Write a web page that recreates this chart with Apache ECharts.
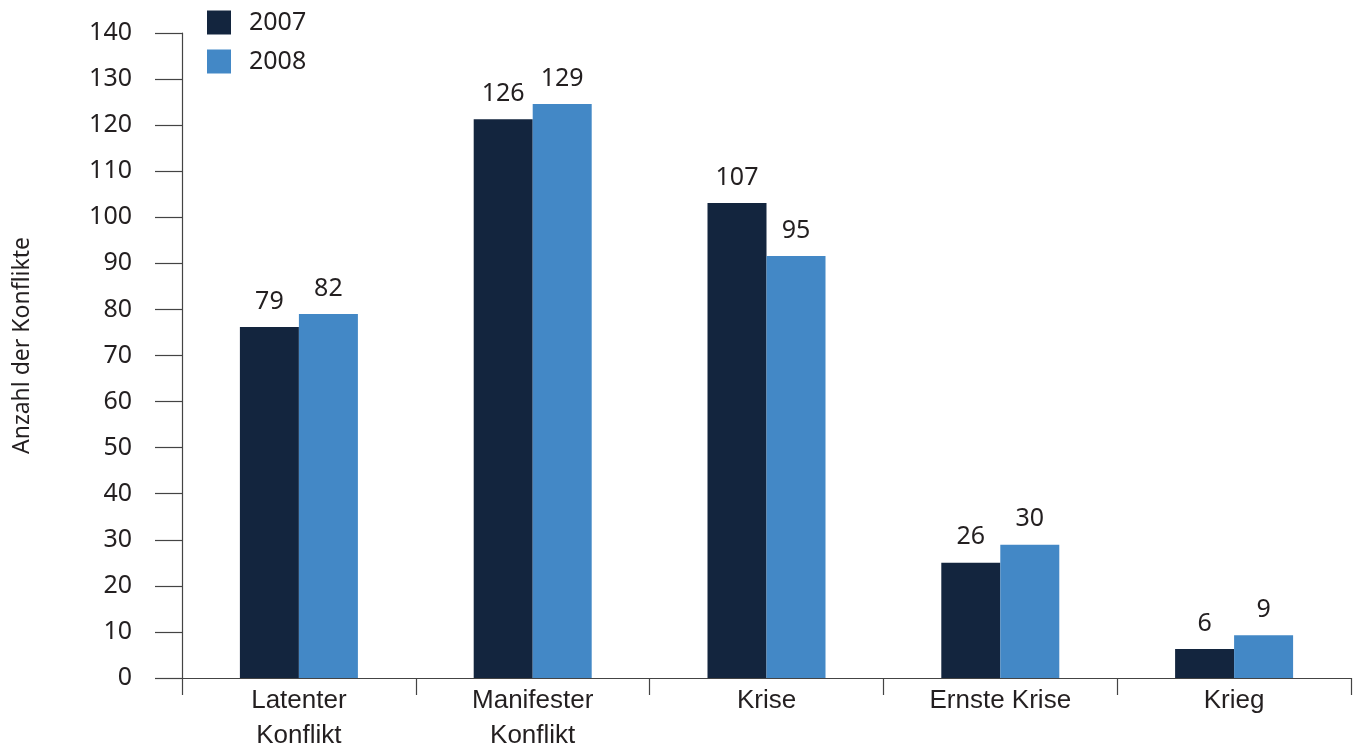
<!DOCTYPE html>
<html><head><meta charset="utf-8">
<script src="https://cdn.jsdelivr.net/npm/echarts@6/dist/echarts.min.js"></script>
<style>html,body{margin:0;padding:0;background:#fff}#c{width:1363px;height:749px}</style>
</head><body><div id="c"></div>
<script>
const categories = ['Latenter\nKonflikt', 'Manifester\nKonflikt', 'Krise', 'Ernste Krise', 'Krieg'];
const seriesNames = ['2007', '2008'];
// printed value labels
const labels2007 = [79, 126, 107, 26, 6];
const labels2008 = [82, 129, 95, 30, 9];
// bar heights as drawn against the axis
const bars2007 = [76.2, 121.3, 103.1, 25.0, 6.3];
const bars2008 = [79.0, 124.6, 91.6, 28.9, 9.3];
const yTicks = [0, 10, 20, 30, 40, 50, 60, 70, 80, 90, 100, 110, 120, 130, 140];

const textColor = '#231f20';
const font = 'Noto Sans';
function mk(name, bars, labs, color) {
  return {
    name: name, type: 'bar', barWidth: 59, barGap: '0%',
    data: bars,
    itemStyle: { color: color },
    label: { show: true, position: 'top', distance: 13, color: textColor, fontSize: 25, fontFamily: font,
      formatter: p => String(labs[p.dataIndex]) }
  };
}
const chart = echarts.init(document.getElementById('c'));
chart.setOption({
  animation: false,
  grid: { left: 182, right: 12, top: 33, bottom: 71, containLabel: false, outerBoundsMode: 'none' },
  legend: {
    orient: 'vertical', left: 207, top: 10, padding: 0, itemWidth: 24, itemHeight: 24, itemGap: 14,
    icon: 'rect', textStyle: { fontSize: 25, color: textColor, fontFamily: font, padding: [0, 0, 0, 13] },
    data: seriesNames
  },
  xAxis: {
    type: 'category', data: categories,
    axisLine: { lineStyle: { color: '#444', width: 1.2 } },
    axisTick: { show: true, length: 17, lineStyle: { color: '#444', width: 1.2 } },
    axisLabel: { color: textColor, fontSize: 26, fontFamily: 'Liberation Sans', margin: 5, lineHeight: 35, interval: 0 }
  },
  yAxis: {
    type: 'value', min: 0, max: 140, interval: 10,
    name: 'Anzahl der Konflikte', nameLocation: 'middle', nameGap: 148, nameRotate: 90,
    nameTextStyle: { fontSize: 23, color: textColor, fontFamily: font, padding: [0, 0, 0, 20] },
    axisLine: { show: true, lineStyle: { color: '#444', width: 1.2 } },
    axisTick: { show: true, length: 27, lineStyle: { color: '#444', width: 1.2 } },
    splitLine: { show: false },
    axisLabel: { color: textColor, fontSize: 25, fontFamily: font, margin: 50,
      formatter: v => yTicks.includes(v) ? String(v) : '' }
  },
  series: [mk(seriesNames[0], bars2007, labels2007, '#13253e'), mk(seriesNames[1], bars2008, labels2008, '#4388c6')]
});
</script></body></html>
